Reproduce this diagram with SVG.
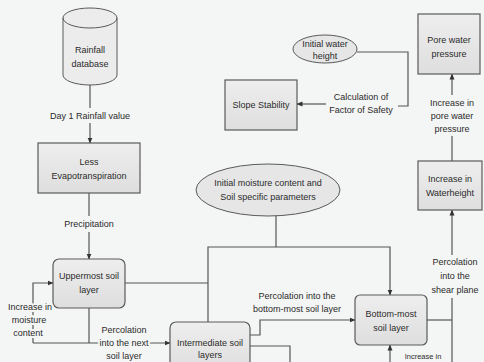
<svg xmlns="http://www.w3.org/2000/svg" width="484" height="362" viewBox="0 0 484 362">
<defs>
<marker id="ah" markerWidth="6" markerHeight="6" refX="5.5" refY="3" orient="auto" markerUnits="userSpaceOnUse">
<path d="M0,0.5 L6,3 L0,5.5 z" fill="#333"/>
</marker>
<linearGradient id="bg" x1="0" y1="0" x2="0" y2="1">
<stop offset="0" stop-color="#eeeeee"/>
<stop offset="1" stop-color="#dedede"/>
</linearGradient>
</defs>
<style>
text{font-family:"Liberation Sans",Arial,sans-serif;font-size:9px;fill:#2b2b2b;text-anchor:middle}
.box{fill:url(#bg);stroke:#5a5a5a;stroke-width:1.2}
.ell{fill:#e6e6e6;stroke:#5a5a5a;stroke-width:1}
.c line,.c path,.c polyline{fill:none;stroke:#555;stroke-width:1.2}
.lbl{paint-order:stroke;stroke:#f4f5f5;stroke-width:4px;stroke-linejoin:round}
</style>
<rect width="484" height="362" fill="#f4f5f5"/>

<g class="c" id="connectors">
<line x1="90" y1="85" x2="90" y2="108"/>
<line x1="90" y1="123" x2="90" y2="143" marker-end="url(#ah)"/>
<line x1="89" y1="193" x2="89" y2="216"/>
<line x1="89" y1="232" x2="89" y2="259" marker-end="url(#ah)"/>
<polyline points="89,308 89,343"/>
<polyline points="33,343 170,343" marker-end="url(#ah)"/>
<polyline points="33,343 33,283 53,283" marker-end="url(#ah)"/>
<polyline points="125,283 208,283"/>
<polyline points="276,216 276,247"/>
<polyline points="208,322 208,247 390,247 390,295" marker-end="url(#ah)"/>
<polyline points="250,335 260,335 260,320 355,320" marker-end="url(#ah)"/>
<polyline points="250,346 290,346 290,362"/>
<line x1="390" y1="362" x2="390" y2="345" marker-end="url(#ah)"/>
<polyline points="427,320 452,320"/>
<line x1="452" y1="362" x2="452" y2="298"/>
<line x1="452" y1="255" x2="452" y2="210" marker-end="url(#ah)"/>
<line x1="452" y1="161" x2="452" y2="136"/>
<line x1="452" y1="95" x2="452" y2="74" marker-end="url(#ah)"/>
<polyline points="357,52 408,52 408,106 398,106"/>
<line x1="326" y1="104" x2="297" y2="104" marker-end="url(#ah)"/>
</g>

<g id="rainfall-database">
<path class="ell" d="M63,18 V75 A27,10 0 0 0 117,75 V18 A27,10 0 0 0 63,18 Z" style="fill:#ececec"/>
<path d="M63,18 A27,10 0 0 0 117,18" fill="none" stroke="#5a5a5a" stroke-width="1"/>
<text x="90" y="53">Rainfall</text>
<text x="90" y="67">database</text>
</g>
<g id="label-day1"><text x="90" y="119">Day 1 Rainfall value</text></g>

<g id="less-evapotranspiration">
<rect class="box" x="38" y="143" width="102" height="50"/>
<text x="89" y="165">Less</text>
<text x="89" y="179">Evapotranspiration</text>
</g>
<g id="label-precipitation"><text x="89" y="227">Precipitation</text></g>

<g id="uppermost-soil-layer">
<rect class="box" x="53" y="259" width="72" height="49" rx="6"/>
<text x="89" y="279">Uppermost soil</text>
<text x="89" y="293">layer</text>
</g>
<g id="label-increase-moisture">
<text class="lbl" x="30" y="310">Increase in</text>
<text class="lbl" x="29" y="323">moisture</text>
<text class="lbl" x="28" y="336">content</text>
</g>
<g id="label-percolation-next">
<text class="lbl" x="124" y="333">Percolation</text>
<text class="lbl" x="124" y="346">into the next</text>
<text class="lbl" x="124" y="359">soil layer</text>
</g>

<g id="intermediate-soil-layers">
<rect class="box" x="170" y="322" width="80" height="50" rx="6"/>
<text x="210" y="346">Intermediate soil</text>
<text x="210" y="358">layers</text>
</g>

<g id="initial-moisture">
<ellipse class="ell" cx="268" cy="190" rx="72" ry="26"/>
<text x="268" y="186">Initial moisture content  and</text>
<text x="268" y="200">Soil specific parameters</text>
</g>
<g id="label-percolation-bottom">
<text x="297" y="299">Percolation into the</text>
<text x="297" y="312">bottom-most soil layer</text>
</g>

<g id="bottom-most-soil-layer">
<rect class="box" x="355" y="295" width="72" height="50" rx="5"/>
<text x="391" y="317">Bottom-most</text>
<text x="391" y="331">soil layer</text>
</g>
<g id="label-increase-bottom"><text x="423" y="359" style="font-size:7.5px">Increase in</text></g>

<g id="label-percolation-shear">
<text x="455" y="265">Percolation</text>
<text x="455" y="279">into the</text>
<text x="455" y="293">shear plane</text>
</g>

<g id="increase-waterheight">
<rect class="box" x="418" y="161" width="64" height="49"/>
<text x="450" y="182">Increase in</text>
<text x="450" y="196">Waterheight</text>
</g>
<g id="label-increase-pore">
<text x="452" y="106">Increase in</text>
<text x="452" y="119">pore water</text>
<text x="452" y="132">pressure</text>
</g>
<g id="pore-water-pressure">
<rect class="box" x="418" y="14" width="62" height="60"/>
<text x="449" y="43">Pore water</text>
<text x="449" y="57">pressure</text>
</g>

<g id="initial-water-height">
<ellipse class="ell" cx="325" cy="49" rx="32" ry="14"/>
<text x="325" y="47">Initial water</text>
<text x="325" y="59">height</text>
</g>
<g id="label-calc-fos">
<text x="361" y="100">Calculation of</text>
<text x="361" y="113">Factor of Safety</text>
</g>
<g id="slope-stability">
<rect class="box" x="225" y="80" width="72" height="50"/>
<text x="261" y="108">Slope Stability</text>
</g>
</svg>
